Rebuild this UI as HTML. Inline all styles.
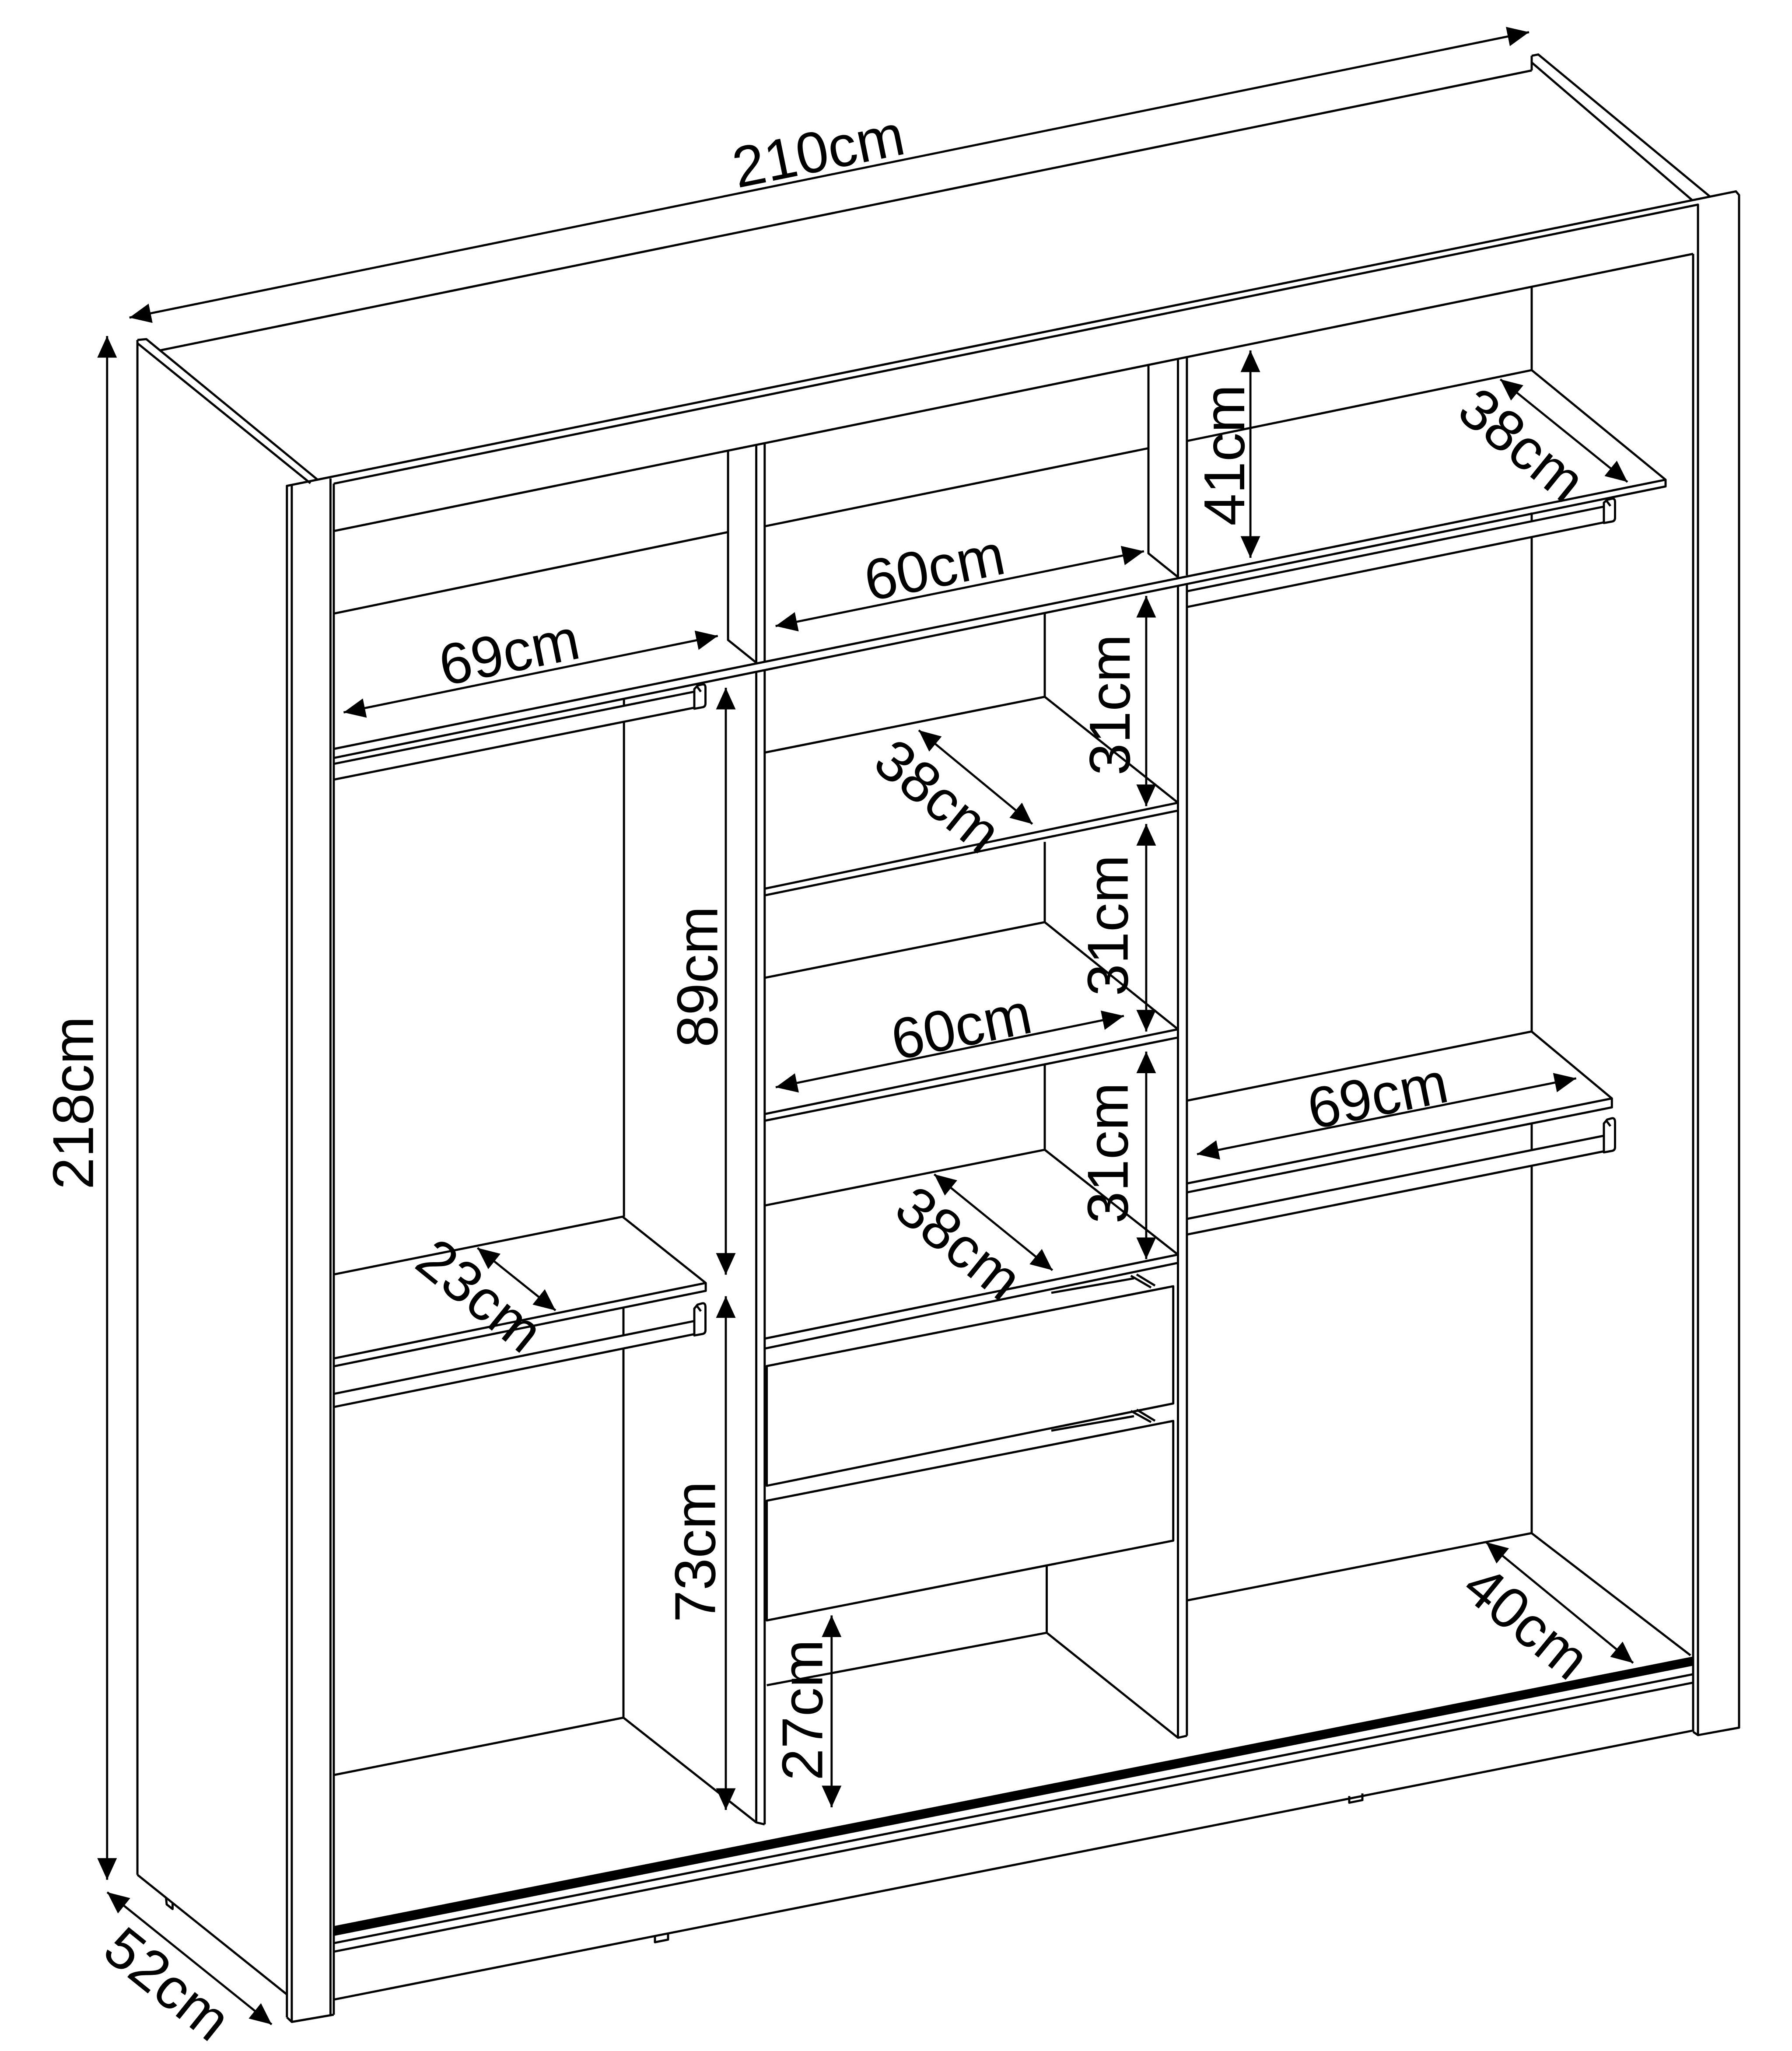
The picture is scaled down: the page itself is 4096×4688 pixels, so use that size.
<!DOCTYPE html>
<html><head><meta charset="utf-8"><style>html,body{margin:0;padding:0;background:#fff}svg{display:block}</style></head>
<body>
<svg xmlns="http://www.w3.org/2000/svg" width="4096" height="4688" viewBox="0 0 1365.333 1562.667">
<defs>
<marker id="ah" markerUnits="userSpaceOnUse" viewBox="0 0 17 16" refX="16.5" refY="8" markerWidth="17" markerHeight="16" orient="auto-start-reverse">
<path d="M0,0.5 L16.5,8 L0,15.5 z" fill="#000"/>
</marker>
</defs>
<rect x="0" y="0" width="1365.333" height="1562.667" fill="#fff"/>
<g fill="none" stroke="#000" stroke-width="1.65" stroke-linejoin="round">
<!-- carcass -->
<path d="M104.7,259 V1428.4 M104.7,259 L111.5,258.4 L242,365.5 M104.7,261.5 L236.5,368.2 M104.7,1428.4 L218.6,1519.6
M121.7,267 L1167,53.7 M1167,42.5 L1172,41.5 L1302.9,149.8 M1167,42.5 V53.7 M1167,47.6 L1289.3,152.5
M218.6,1537 V370.2 L1322.6,145.8 L1325,148.6 V1316.3 L1293.7,1322 L1290,1319.5
M222.3,369.5 V1540.5 M218.6,1537 L222.3,1540.5 L254.3,1535
M251.8,364.5 V1535.5 M254.3,368.5 V1535
M254.3,368.5 L1293.7,155.9 V1322 M1290,193.4 V1319.5
M254.3,404.6 L1290,193.4"/>
<!-- dividers -->
<path d="M554.7,343.4 V487.6 L576.2,504.9 M576.2,339 V504.9 M582.6,337.7 V503.8
M576.2,511.7 V1388.5 L582.6,1390 M582.6,510.4 V1390 M475,1308.7 L576.2,1388.5
M875,278 V421.6 L897.5,439.7 M897.5,273.4 V439.7 M904.3,272.1 V438.3
M897.5,445.8 V1324 L904.3,1322.5 M904.3,444.4 V1322.5 M797.5,1244 L897.5,1324"/>
<!-- upper boxes & long shelf -->
<path d="M254.3,467.5 L554.7,405.4 M582.6,401 L875,341.5
M254.3,570.6 L1269,365.5 V370.6 L254.3,577.5
M904.3,336 L1167,282 L1269,365.5 M1167,218.5 V282"/>
<!-- upper-left rod -->
<path d="M254.3,582 L529,527 M254.3,594 L529,539.2 M475.4,532.4 V538 M475.4,550 V927
M529,525 V540 L535.5,538.8 Q537.5,538.3 537.5,536 V524 Q537.5,521 535,521.5 L531.5,522.3 Z M531,523 L534,527"/>
<!-- upper-right rod -->
<path d="M904.3,450.5 L1222,386 M904.3,462.5 L1222,398 M1167,390.5 V396.8 M1167,408.8 V785.9
M1222,383 V398.5 L1228.5,397.3 Q1230.5,396.8 1230.5,394.5 V382.5 Q1230.5,379.5 1228,380 L1224.5,380.8 Z M1224,381.5 L1227,385.5"/>
<!-- lower-right shelf & rod -->
<path d="M904.3,838.6 L1166.9,785.9 L1228.1,836.9 V843.7 L904.3,908.5 M1228.1,836.9 L904.3,901.7
M904.3,928.7 L1222,865.3 M904.3,940.6 L1222,877.2 M1167,855.9 V876.3 M1167,888.2 V1168.1
M1222,856 V878 L1228.5,876.8 Q1230.5,876.3 1230.5,874 V855 Q1230.5,851.5 1228,852 L1224.5,853 Z M1224,854 L1227,858"/>
<!-- lower-left shelf & rod -->
<path d="M254.3,971 L474.3,927 L537.7,977.5 V983.5 L254.3,1041 M537.7,977.5 L254.3,1035
M254.3,1062 L529,1006.5 M254.3,1072 L529,1016.5 M475,996.3 V1018 M475,1028 V1308.7
M254.3,1352.4 L475,1308.7
M529,997 V1017.5 L535.5,1016.3 Q537.5,1015.8 537.5,1013.5 V996 Q537.5,992.5 535,993 L531.5,994 Z M531,995 L534,999"/>
<!-- middle shelves -->
<path d="M582.6,573.4 L796,530.9 L897.5,611.6 L582.6,677.1 M582.6,682.2 L897.5,617.6
M582.6,745 L796,702.6 L897.5,784.2 L582.6,848.8 M582.6,853.9 L897.5,790.5
M582.6,918.5 L796,876 L897.5,955.9 L582.6,1019.9 M582.6,1027.5 L897.5,962.2
M796,466.6 V530.9 M796,641.4 V702.6 M796,811.4 V876"/>
<!-- drawers -->
<path d="M584.2,1040.8 L893.9,980 V1069.3 L584.2,1132 Z
M584.2,1143.4 L893.9,1082.6 V1173.8 L584.2,1234.6 Z
M801,985 L864,974 M861.6,972 L877,981 M866,971 L880,979.5
M801,1090 L864,1079 M861.6,1075 L877,1083.5 M866,1074 L880,1082.5
M797.5,1192.7 V1244 M584.2,1284 L797.5,1244"/>
<!-- right floor -->
<path d="M904.3,1219.4 L1166.9,1168.1 L1288,1261.2"/>
<!-- bottom rail -->
<path d="M254.3,1480.5 L1290,1275.6 M254.3,1487 L1290,1282 M254.3,1523.5 L1290,1318.5"/>
<!-- feet -->
<path d="M499,1474.5 V1479.8 L509,1477.8 V1472.5 M1028,1368.4 V1373.5 L1038,1371.5 V1366.4 M126.5,1446 L127,1451 L131.5,1454.5 V1449.5"/>
</g>
<polygon points="254.3,1468 1290,1262.6 1290,1268.6 254.3,1474.5" fill="#000" stroke="#000" stroke-width="1"/>
<!-- dimension arrows -->
<g stroke="#000" stroke-width="1.6" marker-start="url(#ah)" marker-end="url(#ah)">
<line x1="98.6" y1="242" x2="1165" y2="24.5"/>
<line x1="81.6" y1="256" x2="81.6" y2="1432.2"/>
<line x1="81.7" y1="1441.7" x2="207" y2="1542.4"/>
<line x1="261.8" y1="542.8" x2="546.9" y2="484.5"/>
<line x1="590.9" y1="477" x2="871.6" y2="420"/>
<line x1="952.7" y1="267" x2="952.7" y2="425"/>
<line x1="1143.1" y1="289" x2="1240" y2="367.2"/>
<line x1="873.3" y1="454" x2="873.3" y2="614.2"/>
<line x1="873.3" y1="627.8" x2="873.3" y2="785.9"/>
<line x1="873.3" y1="801.2" x2="873.3" y2="959.3"/>
<line x1="700" y1="556.4" x2="786.6" y2="627.8"/>
<line x1="591" y1="828.4" x2="856.3" y2="774"/>
<line x1="711.8" y1="894.7" x2="801.9" y2="967.8"/>
<line x1="553" y1="524" x2="553" y2="971.2"/>
<line x1="363.8" y1="950.8" x2="423.3" y2="998.4"/>
<line x1="553" y1="987.6" x2="553" y2="1379"/>
<line x1="633.6" y1="1230.8" x2="633.6" y2="1377"/>
<line x1="912" y1="879.4" x2="1200.9" y2="821.6"/>
<line x1="1132.2" y1="1175" x2="1244.3" y2="1267"/>
</g>
<!-- labels -->
<g font-family="'Liberation Sans', Arial, sans-serif" font-size="44" fill="#000" text-anchor="middle">
<text transform="translate(623.4,114.7) rotate(-11.5)" y="15.7">210cm</text>
<text transform="translate(55.2,840.3) rotate(-90)" y="15.7">218cm</text>
<text transform="translate(128,1511) rotate(38.8)" y="15.7">52cm</text>
<text transform="translate(387.8,496.4) rotate(-11.5)" y="15.7">69cm</text>
<text transform="translate(711.8,431.9) rotate(-11.5)" y="15.7">60cm</text>
<text transform="translate(932.3,346.8) rotate(-90)" y="15.7">41cm</text>
<text transform="translate(1160,338.3) rotate(39)" y="15.7">38cm</text>
<text transform="translate(845,537) rotate(-90)" y="15.7">31cm</text>
<text transform="translate(843.5,705.1) rotate(-90)" y="15.7">31cm</text>
<text transform="translate(843.5,878.5) rotate(-90)" y="15.7">31cm</text>
<text transform="translate(715,606) rotate(39)" y="15.7">38cm</text>
<text transform="translate(732.3,781.6) rotate(-11.5)" y="15.7">60cm</text>
<text transform="translate(731,946.6) rotate(39)" y="15.7">38cm</text>
<text transform="translate(530.8,744.2) rotate(-90)" y="15.7">89cm</text>
<text transform="translate(366,986.5) rotate(39)" y="15.7">23cm</text>
<text transform="translate(529.1,1182.3) rotate(-90)" y="15.7">73cm</text>
<text transform="translate(610.8,1302.9) rotate(-90)" y="15.7">27cm</text>
<text transform="translate(1049.5,834.3) rotate(-11.5)" y="15.7">69cm</text>
<text transform="translate(1163.5,1235.5) rotate(39.4)" y="15.7">40cm</text>
</g>
</svg>
</body></html>
